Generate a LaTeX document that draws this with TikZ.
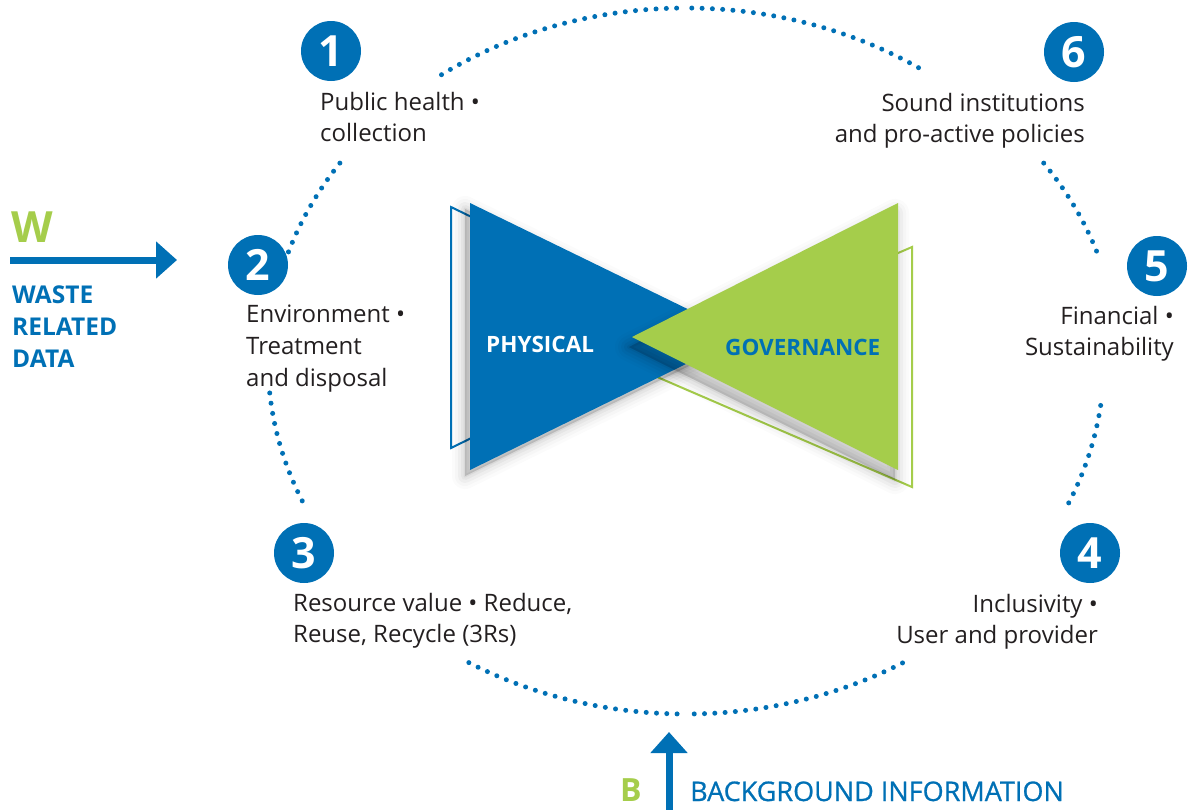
\documentclass[tikz,border=0pt]{standalone}
\usepackage{fontspec}
\setmainfont{Open Sans}
\newfontfamily\medfont[FakeBold=0.8]{Open Sans}
\usetikzlibrary{arrows.meta}
\definecolor{wblue}{HTML}{0070B5}
\definecolor{wgreen}{HTML}{A5CD4B}
\definecolor{wtext}{HTML}{231F20}
\begin{document}
\begin{tikzpicture}[x=1pt,y=-1pt,
  numc/.style={circle, fill=wblue, minimum size=60pt, inner sep=0pt, text=white, font=\fontsize{43}{43}\selectfont\bfseries},
  lbl/.style={text=wtext, font=\fontsize{24}{24}\selectfont, inner sep=0pt},
  lw/.style={lbl, anchor=base west},
  le/.style={lbl, anchor=base east},
  dots/.style={wblue, line width=5pt, line cap=round, dash pattern=on 0pt off 10.3pt},
  bigarrow/.style={wblue, line width=7pt, -{Triangle[length=21pt,width=36pt]}},
  keyw/.style={text=wblue, inner sep=0pt, anchor=base west, font=\fontsize{24.5}{24.5}\selectfont\bfseries},
  letter/.style={text=wgreen, inner sep=0pt, anchor=base west, font=\bfseries},
  shadowlayer/.style={fill=black, draw=black, fill opacity=#1, draw opacity=#1, line join=round}
]
\useasboundingbox (0,0) rectangle (1188,809);

% ---- dotted ring ----
\draw[dots] plot[domain=125.8:90, samples=90, variable=\t] ({686+418*cos(\t)},{361-353*sin(\t)});
\draw[dots] plot[domain=56.2:90, samples=90, variable=\t] ({686+418*cos(\t)},{361-353*sin(\t)});
\draw[dots] plot[domain=145.9:162.8, samples=40, variable=\t] ({686+418*cos(\t)},{361-353*sin(\t)});
\draw[dots] plot[domain=185.2:203.7, samples=40, variable=\t] ({686+418*cos(\t)},{361-353*sin(\t)});
\draw[dots] plot[domain=238.7:270, samples=80, variable=\t] ({686+418*cos(\t)},{361-353*sin(\t)});
\draw[dots] plot[domain=301.2:270, samples=80, variable=\t] ({686+418*cos(\t)},{361-353*sin(\t)});
\draw[dots] plot[domain=336.3:353.2, samples=40, variable=\t] ({686+418*cos(\t)},{361-353*sin(\t)});
\draw[dots] plot[domain=34.1:17.2, samples=40, variable=\t] ({686+432*cos(\t)},{361-353*sin(\t)});

% ---- bow tie ----
\draw[wblue, line width=2pt, fill=white] (451,207) -- (451,448) -- (698,327) -- cycle;
\draw[wgreen, line width=2pt, fill=white] (912,247) -- (912,487) -- (634,367) -- cycle;
\foreach \w/\o in {26/0.015,20/0.02,14/0.03,8/0.04,3/0.05}{
  \path[shadowlayer=\o, line width=\w pt, shift={(-5,6)}] (470,203) -- (470,470) -- (743,336) -- cycle;
}
\fill[wblue] (470,203) -- (470,470) -- (743,336) -- cycle;
\foreach \w/\o in {28/0.015,22/0.02,16/0.03,10/0.04,4/0.05}{
  \path[shadowlayer=\o, line width=\w pt, shift={(-3,10)}] (898,203) -- (898,470) -- (632,337) -- cycle;
}
\fill[wgreen] (898,203) -- (898,470) -- (632,337) -- cycle;
\node[inner sep=0pt, anchor=base west, text=white, font=\fontsize{22.5}{22.5}\selectfont\bfseries] (phys) at (486,352) {PHYSICAL};
\node[inner sep=0pt, anchor=base west, text=wblue, font=\fontsize{22.5}{22.5}\selectfont\bfseries] (gov) at (725,355) {GOVERNANCE};

% ---- numbered items ----
\node[numc] (n1) at (331,51) {1};
\node[numc] (n2) at (258,265) {2};
\node[numc] (n3) at (304,553) {3};
\node[numc] (n4) at (1090,553) {4};
\node[numc] (n5) at (1157,266) {5};
\node[numc] (n6) at (1074,52) {6};

\node[lw] (l1a) at (320,110) {Public health •};
\node[lw] (l1b) at (320,141) {collection};
\node[lw] (l2a) at (246,322) {Environment •};
\node[lw] (l2b) at (246,354) {Treatment};
\node[lw] (l2c) at (246,386) {and disposal};
\node[lw] (l3a) at (293,611) {Resource value • Reduce,};
\node[lw] (l3b) at (293,642) {Reuse, Recycle (3Rs)};
\node[le] (l4a) at (1098,612) {Inclusivity •};
\node[le] (l4b) at (1098,643) {User and provider};
\node[le] (l5a) at (1174,324) {Financial •};
\node[le] (l5b) at (1174,355) {Sustainability};
\node[le] (l6a) at (1085,111) {Sound institutions};
\node[le] (l6b) at (1085,142) {and pro-active policies};

% ---- inputs ----
\node[letter, font=\fontsize{43}{43}\selectfont\bfseries] (W) at (11,242) {W};
\coordinate (wS) at (10,260);
\coordinate (wE) at (177,260);
\draw[bigarrow] (wS) -- (wE);
\node[keyw] (wa) at (12,303) {WASTE};
\node[keyw] (wb) at (12,335) {RELATED};
\node[keyw] (wc) at (12,367) {DATA};

\node[letter, font=\fontsize{32}{32}\selectfont\bfseries] (B) at (620,801) {B};
\coordinate (bS) at (669,812);
\coordinate (bE) at (669,732);
\draw[bigarrow] (bS) -- (bE);
\node[inner sep=0pt, anchor=base west, text=wblue, font=\fontsize{27}{27}\medfont] (bg) at (690,801) {BACKGROUND INFORMATION};
\end{tikzpicture}
\end{document}
